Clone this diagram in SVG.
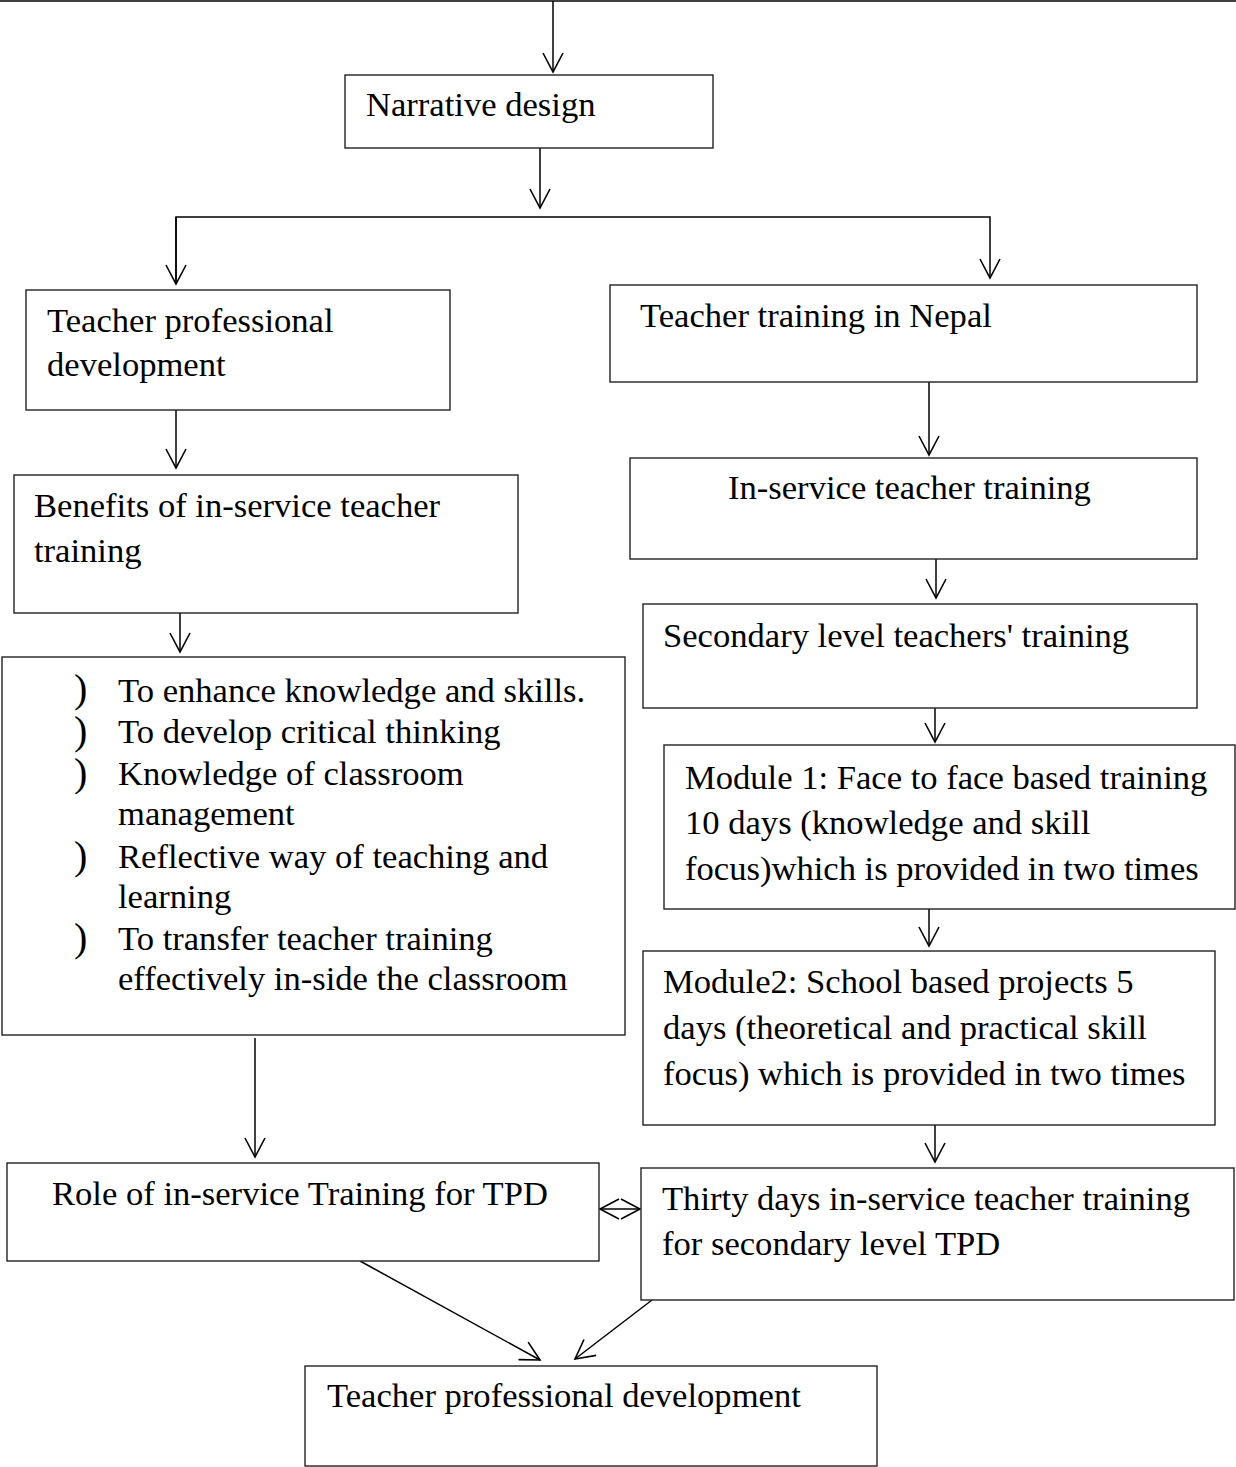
<svg xmlns="http://www.w3.org/2000/svg" width="1236" height="1467" viewBox="0 0 1236 1467">
<style>
.box{fill:#fff;stroke:#222;stroke-width:1.4}
.t{font-family:"Liberation Serif","Times New Roman",serif;font-size:34.6px;fill:#000}
.b{font-family:"Liberation Serif","Times New Roman",serif;font-size:40px;fill:#000}
.c{fill:none;stroke:#000;stroke-width:1.5}
</style>
<defs>
<marker id="ah" markerUnits="userSpaceOnUse" markerWidth="24" markerHeight="24" viewBox="0 0 24 24" refX="20" refY="12" orient="auto-start-reverse">
<path d="M1,2 L20,12 L1,22" fill="none" stroke="#000" stroke-width="1.6"/>
</marker>
</defs>
<rect width="1236" height="1467" fill="#fff"/>
<g id="connectors">
<line class="c" x1="0" y1="1" x2="1236" y2="1"/>
<line class="c" x1="553" y1="1" x2="553" y2="72" marker-end="url(#ah)"/>
<line class="c" x1="540" y1="148" x2="540" y2="208" marker-end="url(#ah)"/>
<polyline class="c" points="176,284 176,217 990,217 990,278" marker-end="url(#ah)"/>
<line class="c" x1="176" y1="217" x2="176" y2="284" marker-end="url(#ah)"/>
<line class="c" x1="176" y1="410" x2="176" y2="468" marker-end="url(#ah)"/>
<line class="c" x1="929" y1="382" x2="929" y2="455" marker-end="url(#ah)"/>
<line class="c" x1="180" y1="613" x2="180" y2="652" marker-end="url(#ah)"/>
<line class="c" x1="936" y1="559" x2="936" y2="598" marker-end="url(#ah)"/>
<line class="c" x1="935" y1="708" x2="935" y2="742" marker-end="url(#ah)"/>
<line class="c" x1="929" y1="909" x2="929" y2="946" marker-end="url(#ah)"/>
<line class="c" x1="255" y1="1038" x2="255" y2="1157" marker-end="url(#ah)"/>
<line class="c" x1="935" y1="1125" x2="935" y2="1162" marker-end="url(#ah)"/>
<line class="c" x1="600" y1="1209" x2="640" y2="1209" marker-start="url(#ah)" marker-end="url(#ah)"/>
<line class="c" x1="360" y1="1261" x2="540" y2="1360" marker-end="url(#ah)"/>
<line class="c" x1="652" y1="1300" x2="575" y2="1359" marker-end="url(#ah)"/>
</g>
<g id="n-narrative">
<rect class="box" x="345" y="75" width="368" height="73"/>
<text class="t" x="366" y="116">Narrative design</text>
</g>
<g id="n-tpd">
<rect class="box" x="26" y="290" width="424" height="120"/>
<text class="t" x="47" y="332">Teacher professional</text>
<text class="t" x="47" y="376">development</text>
</g>
<g id="n-nepal">
<rect class="box" x="610" y="285" width="587" height="97"/>
<text class="t" x="640" y="327">Teacher training in Nepal</text>
</g>
<g id="n-benefits">
<rect class="box" x="14" y="475" width="504" height="138"/>
<text class="t" x="34" y="517">Benefits of in-service teacher</text>
<text class="t" x="34" y="562">training</text>
</g>
<g id="n-inservice">
<rect class="box" x="630" y="458" width="567" height="101"/>
<text class="t" x="728" y="499">In-service teacher training</text>
</g>
<g id="n-list">
<rect class="box" x="2" y="657" width="623" height="378"/>
<text class="b" x="74" y="702">)</text>
<text class="b" x="74" y="744">)</text>
<text class="b" x="74" y="786">)</text>
<text class="b" x="74" y="869">)</text>
<text class="b" x="74" y="951">)</text>
<text class="t" x="118" y="702">To enhance knowledge and skills.</text>
<text class="t" x="118" y="743">To develop critical thinking</text>
<text class="t" x="118" y="785">Knowledge of classroom</text>
<text class="t" x="118" y="825">management</text>
<text class="t" x="118" y="868">Reflective way of teaching and</text>
<text class="t" x="118" y="908">learning</text>
<text class="t" x="118" y="950">To transfer teacher training</text>
<text class="t" x="118" y="990">effectively in-side the classroom</text>
</g>
<g id="n-secondary">
<rect class="box" x="643" y="604" width="554" height="104"/>
<text class="t" x="663" y="647">Secondary level teachers' training</text>
</g>
<g id="n-module1">
<rect class="box" x="664" y="745" width="571" height="164"/>
<text class="t" x="685" y="789">Module 1: Face to face based training</text>
<text class="t" x="685" y="834">10 days (knowledge and skill</text>
<text class="t" x="685" y="880">focus)which is provided in two times</text>
</g>
<g id="n-module2">
<rect class="box" x="643" y="951" width="572" height="174"/>
<text class="t" x="663" y="993">Module2: School based projects 5</text>
<text class="t" x="663" y="1039">days (theoretical and practical skill</text>
<text class="t" x="663" y="1085">focus) which is provided in two times</text>
</g>
<g id="n-role">
<rect class="box" x="7" y="1163" width="592" height="98"/>
<text class="t" x="52" y="1205">Role of in-service Training for TPD</text>
</g>
<g id="n-thirty">
<rect class="box" x="641" y="1168" width="593" height="132"/>
<text class="t" x="662" y="1210">Thirty days in-service teacher training</text>
<text class="t" x="662" y="1255">for secondary level TPD</text>
</g>
<g id="n-final">
<rect class="box" x="305" y="1366" width="572" height="100"/>
<text class="t" x="327" y="1407">Teacher professional development</text>
</g>
</svg>
